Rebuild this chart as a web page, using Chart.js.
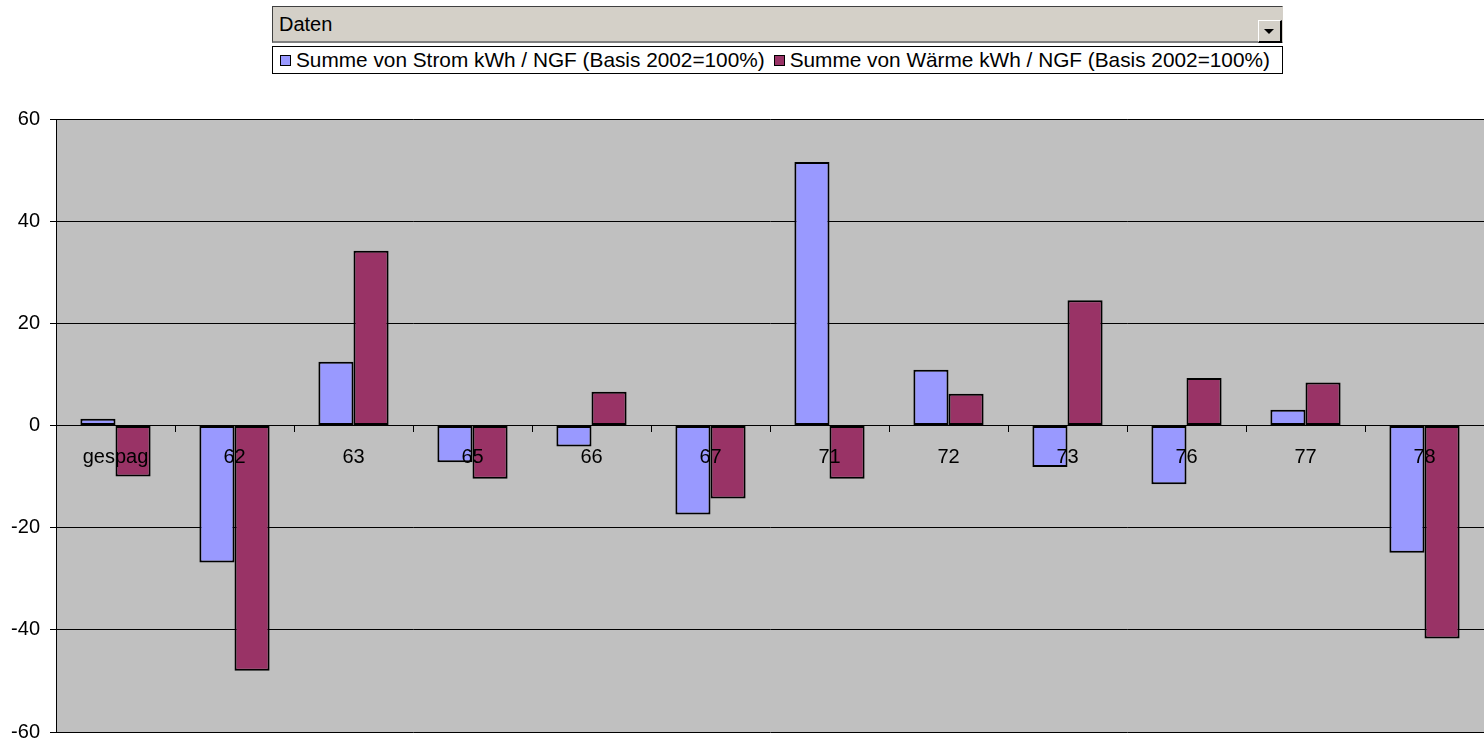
<!DOCTYPE html>
<html>
<head>
<meta charset="utf-8">
<script src="https://cdn.jsdelivr.net/npm/chart.js@4/dist/chart.umd.min.js"></script>
<style>
  html, body { margin: 0; padding: 0; background: #fff; }
  #wrap { position: relative; width: 1484px; height: 741px; overflow: hidden; font-family: 'Liberation Sans', Arial, sans-serif; }
  #chartBox { position: absolute; left: 0; top: 0; width: 1484px; height: 741px; }
  #field {
    position: absolute; left: 272px; top: 6px; width: 1009px; height: 34px;
    background: #d4d0c8; border-top: 1px solid #404040; border-left: 1px solid #404040;
    border-right: 1px solid #d4d0c8; border-bottom: 2px solid #808080;
  }
  #field span { position: absolute; left: 6px; top: 6px; font-size: 20px; color: #000; }
  #drop {
    position: absolute; left: 985px; top: 13px; width: 21px; height: 20px;
    background: #d4d0c8; border-top: 1px solid #fff; border-left: 1px solid #fff;
    border-right: 2px solid #000; border-bottom: 2px solid #000;
  }
  #drop::after {
    content: ''; position: absolute; left: 5px; top: 8px;
    border-left: 5px solid transparent; border-right: 5px solid transparent; border-top: 5px solid #000;
  }
  #legend {
    position: absolute; left: 272px; top: 46px; width: 1009px; height: 26px;
    background: #fff; border: 1px solid #000; display: flex; align-items: center;
    font-size: 20.8px; color: #000; white-space: nowrap;
  }
  .item { display: flex; align-items: center; margin-left: 7px; }
  .item + .item { margin-left: 9px; }
  .sw { width: 9px; height: 9px; border: 1px solid #000; margin-right: 5px; }
</style>
</head>
<body>
<div id="wrap">
  <div id="chartBox"><canvas id="c"></canvas></div>
  <div id="field"><span>Daten</span><div id="drop"></div></div>
  <div id="legend"></div>
</div>
<script>
const categories = ['gespag', '62', '63', '65', '66', '67', '71', '72', '73', '76', '77', '78'];
const stromValues = [1.3, -26.8, 12.5, -7.2, -4.1, -17.4, 51.6, 10.9, -8.1, -11.5, 3.1, -24.9];
const waermeValues = [-10.0, -48.0, 34.2, -10.4, 6.6, -14.3, -10.4, 6.2, 24.5, 9.3, 8.4, -41.7];
const seriesNames = ['Summe von Strom kWh / NGF (Basis 2002=100%)', 'Summe von Wärme kWh / NGF (Basis 2002=100%)'];
const seriesColors = ['#9999ff', '#993366'];
const yMin = -60;
const yMax = 60;
const yStep = 20;

// legend as html, like the excel pivot legend box
const legend = document.getElementById('legend');
seriesNames.forEach((name, i) => {
  const item = document.createElement('div');
  item.className = 'item';
  item.innerHTML = '<div class="sw" style="background:' + seriesColors[i] + '"></div>' + name;
  legend.appendChild(item);
});

const plotBg = {
  id: 'plotBg',
  beforeDraw(chart) {
    const { ctx, chartArea: a } = chart;
    ctx.save();
    ctx.fillStyle = '#c0c0c0';
    ctx.fillRect(a.left, a.top, a.right - a.left, a.bottom - a.top);
    ctx.restore();
  }
};

Chart.defaults.font.family = "'Liberation Sans', Arial, sans-serif";
Chart.defaults.font.size = 20;
Chart.defaults.color = '#000';

new Chart(document.getElementById('c'), {
  type: 'bar',
  data: {
    labels: categories,
    datasets: [
      { label: seriesNames[0], data: stromValues, backgroundColor: seriesColors[0] },
      { label: seriesNames[1], data: waermeValues, backgroundColor: seriesColors[1] }
    ].map((d) => Object.assign(d, {
      borderColor: '#000',
      borderWidth: 2,
      borderSkipped: false,
      categoryPercentage: 0.59,
      barPercentage: 1.0
    }))
  },
  options: {
    responsive: true,
    maintainAspectRatio: false,
    animation: false,
    layout: { padding: { top: 119, bottom: 9, left: 0, right: 0 } },
    plugins: {
      legend: { display: false },
      tooltip: { enabled: false }
    },
    scales: {
      x: {
        // category labels sit on the zero line, over the bars
        position: { y: 0 },
        afterFit: (scale) => { scale.height = 0; },
        grid: { drawOnChartArea: false, drawTicks: true, tickLength: 6, color: '#000' },
        border: { display: true, color: '#000' },
        ticks: { autoSkip: false, maxRotation: 0, padding: 14, z: 1 }
      },
      y: {
        min: yMin,
        max: yMax,
        afterFit: (scale) => { scale.width = 56; scale.paddingTop = 0; scale.paddingBottom = 0; },
        grid: { color: '#000', tickLength: 6 },
        border: { display: true, color: '#000' },
        ticks: { stepSize: yStep, padding: 10 }
      }
    }
  },
  plugins: [plotBg]
});
</script>
</body>
</html>
